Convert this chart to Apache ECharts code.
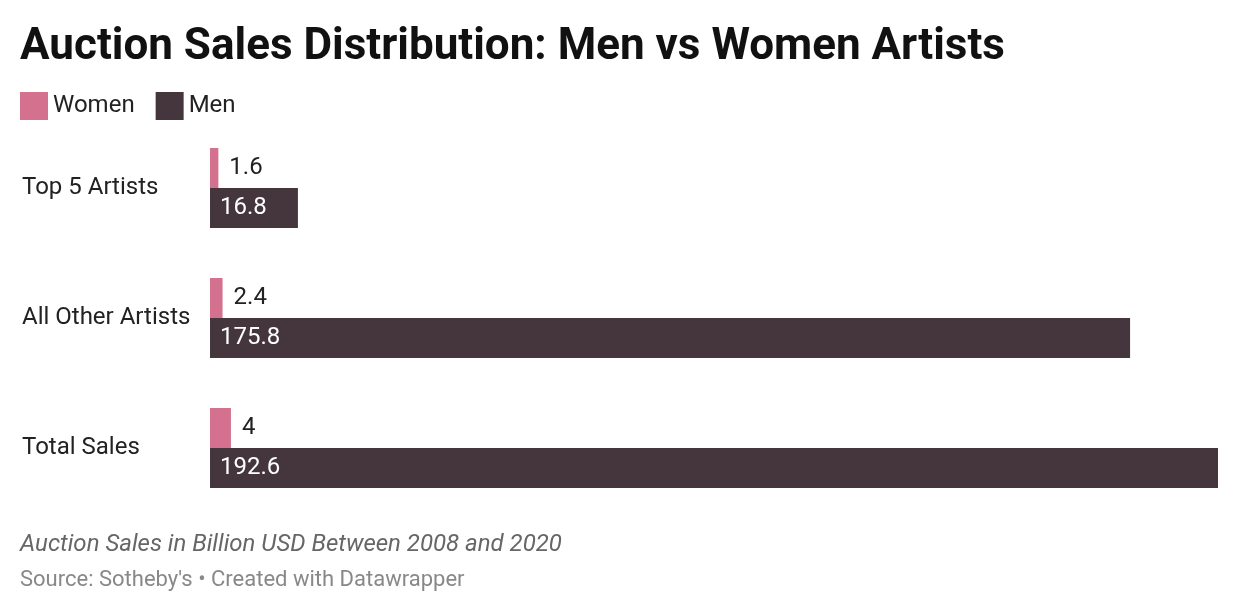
<!DOCTYPE html>
<html><head><meta charset="utf-8">
<script src="https://cdn.jsdelivr.net/npm/echarts@6/dist/echarts.min.js"></script>
<style>html,body{margin:0;padding:0;background:#fff}#c{width:1240px;height:614px}</style>
</head><body><div id="c"></div>
<script>
const categories = ["Top 5 Artists", "All Other Artists", "Total Sales"];
const women = [1.6, 2.4, 4];
const men = [16.8, 175.8, 192.6];
const titleText = "Auction Sales Distribution: Men vs Women Artists";
const subtitleText = "Auction Sales in Billion USD Between 2008 and 2020";
const sourceText = "Source: Sotheby's \u2022 Created with Datawrapper";

const chart = echarts.init(document.getElementById('c'));
chart.setOption({
  animation: false,
  textStyle: {fontFamily: 'Roboto'},
  title: [
    {text: titleText, left: 20, top: 26, padding: 0, textStyle: {fontFamily: 'Roboto', fontWeight: 'bold', fontSize: 44, color: '#111'}},
    {text: subtitleText, left: 20, top: 533, padding: 0, textStyle: {fontFamily: 'Roboto', fontStyle: 'italic', fontWeight: 'normal', fontSize: 24, color: '#666'}},
    {text: sourceText, left: 20, top: 569, padding: 0, textStyle: {fontFamily: 'Roboto', fontWeight: 'normal', fontSize: 22, color: '#888'}}
  ],
  legend: {
    left: 20, top: 92, padding: 0, icon: 'rect', itemWidth: 28, itemHeight: 28, itemGap: 21,
    textStyle: {fontFamily: 'Roboto', fontSize: 24, color: '#222', padding: [5, 0, 0, 0]},
    data: ['Women', 'Men']
  },
  grid: {left: 210, right: 22, top: 123, height: 390, containLabel: false},
  xAxis: {type: 'value', min: 0, max: 192.6, show: false},
  yAxis: {
    type: 'category', data: categories, inverse: true,
    axisLine: {show: false}, axisTick: {show: false},
    axisLabel: {align: 'left', margin: 188, fontFamily: 'Roboto', fontSize: 24, color: '#222', padding: [5, 0, 0, 0]}
  },
  series: [
    {name: 'Women', type: 'bar', data: women, barWidth: 40, barGap: '0%',
     itemStyle: {color: '#d3718f'},
     label: {show: true, position: 'right', distance: 11, fontFamily: 'Roboto', fontSize: 24, color: '#222', padding: [5, 0, 0, 0]}},
    {name: 'Men', type: 'bar', data: men, barWidth: 40, barGap: '0%',
     itemStyle: {color: '#45363e'},
     label: {show: true, position: 'insideLeft', distance: 10, fontFamily: 'Roboto', fontSize: 24, color: '#fff', padding: [5, 0, 0, 0]}}
  ]
});
</script></body></html>
